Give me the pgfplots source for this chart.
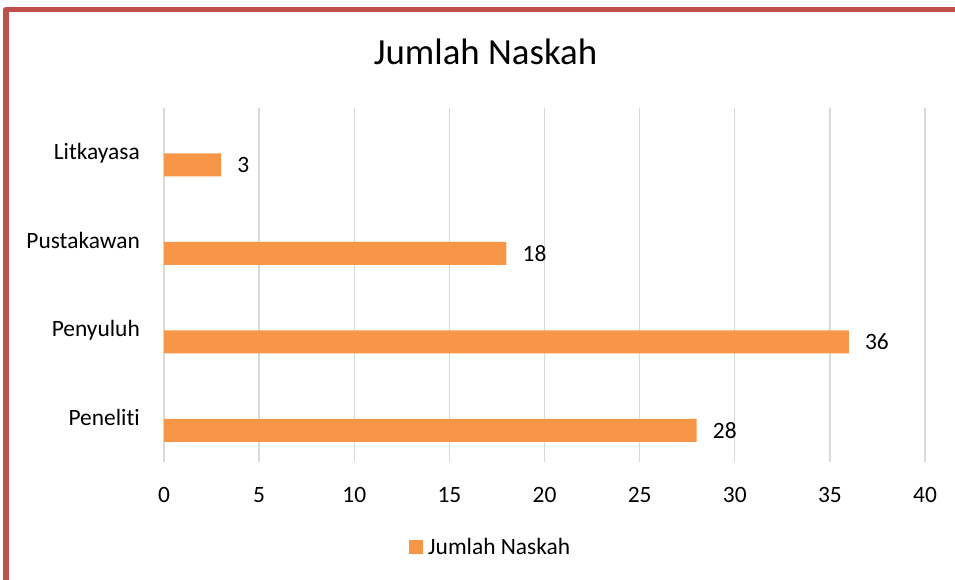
\documentclass[border=0pt]{standalone}
\usepackage{pgfplots}
\pgfplotsset{compat=1.18}
\usepackage{fontspec}
\setmainfont{Carlito}[Ligatures=NoCommon]
\definecolor{barorange}{HTML}{F79646}
\definecolor{gridgray}{HTML}{D9D9D9}
\definecolor{framered}{HTML}{C0504D}
\begin{document}
\begin{tikzpicture}
\path[use as bounding box] (0,0) rectangle (955bp,580bp);
\draw[framered, line width=5.5bp, line join=round] (6bp,-5bp) -- (6bp,570.3bp) -- (960bp,570.3bp);
\begin{axis}[
  at={(164bp,118bp)}, anchor=south west,
  scale only axis, width=761bp, height=354bp,
  xbar, bar width=23bp, bar shift=-12.5bp,
  xmin=0, xmax=40, ymin=-0.5, ymax=3.5,
  xtick={0,5,...,40}, ytick={0,1,2,3},
  yticklabels={Peneliti,Penyuluh,Pustakawan,Litkayasa},
  axis line style={draw=none},
  major tick length=0pt,
  xmajorgrids, ymajorgrids=false,
  grid style={gridgray, line width=1.3bp},
  ticklabel style={font=\fontsize{23.5}{28}\selectfont, inner sep=0pt, text=black},
  xticklabel style={anchor=base, yshift=-40bp},
  yticklabel style={anchor=base east, xshift=-24bp, yshift=-7.5bp},
  /pgf/number format/assume math mode=true,
  nodes near coords,
  nodes near coords style={font=\fontsize{23.5}{28}\selectfont, anchor=base west, inner sep=0pt, xshift=16bp, yshift=-8bp, text=black},
  legend style={at={(0.322,-0.2415)}, anchor=west, draw=none, fill=none, inner sep=0pt,
    font=\fontsize{23.5}{28}\selectfont, nodes={inner sep=0pt},
    /tikz/every odd column/.style={column sep=5bp}},
  legend image code/.code={\fill[#1] (0bp,-7bp) rectangle (14bp,7bp);},
]
\addplot[fill=barorange, draw=none] coordinates {(28,0) (36,1) (18,2) (3,3)};
\addlegendentry{Jumlah Naskah}
\end{axis}
\node[font=\fontsize{37}{44}\selectfont, anchor=base, inner sep=0pt] at (485.5bp,515bp) {Jumlah Naskah};
\end{tikzpicture}
\end{document}
